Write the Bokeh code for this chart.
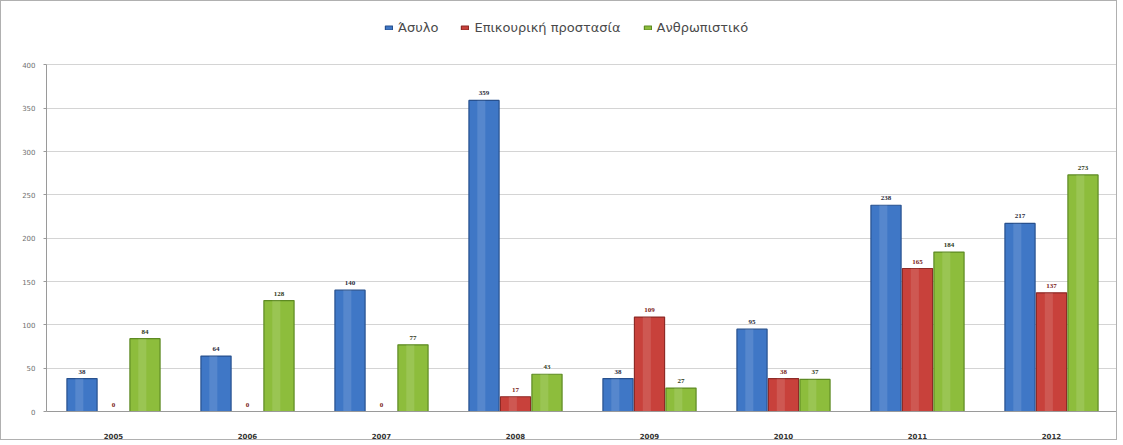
from bokeh.plotting import figure
from bokeh.models import ColumnDataSource, LabelSet, Legend, LegendItem, FactorRange
from bokeh.transform import dodge
from bokeh.embed import file_html
from bokeh.resources import INLINE

years = ["2005", "2006", "2007", "2008", "2009", "2010", "2011", "2012"]
asylum = [38, 64, 140, 359, 38, 95, 238, 217]
subsidiary = [0, 0, 0, 17, 109, 38, 165, 137]
humanitarian = [84, 128, 77, 43, 27, 37, 184, 273]
series_names = ["Άσυλο", "Επικουρική προστασία", "Ανθρωπιστικό"]
y_ticks = [0, 50, 100, 150, 200, 250, 300, 350, 400]

colors = ["#3f77c6", "#c8413b", "#8dbd3c"]
edges = ["#27508e", "#8e2a26", "#5d8a22"]
label_colors = ["#2b2b3a", "#7a1c18", "#2f3a1a"]

src = ColumnDataSource(dict(
    years=years,
    a=asylum, s=subsidiary, h=humanitarian,
    a_t=[str(v) for v in asylum],
    s_t=[str(v) for v in subsidiary],
    h_t=[str(v) for v in humanitarian],
))

W, H = 1117, 440
top_b, bot_b = 15, 25
frame_h = H - top_b - bot_b
y_top = 400 * frame_h / 351.0

p = figure(width=W, height=H, x_range=FactorRange(*years), y_range=(0, y_top),
           output_backend="svg", toolbar_location=None,
           min_border_left=45, min_border_right=0, min_border_top=top_b, min_border_bottom=bot_b)
p.styles = {"border": "1px solid #b0b0b0"}
p.outline_line_color = None
p.background_fill_color = "white"
p.border_fill_color = "white"

p.xgrid.grid_line_color = None
p.ygrid.grid_line_color = "#d4d4d4"
p.ygrid.grid_line_width = 1

p.yaxis.ticker = y_ticks
p.yaxis.bounds = (y_ticks[0], y_ticks[-1])
p.yaxis.axis_line_color = "#9a9a9a"
p.yaxis.major_tick_line_color = "#9a9a9a"
p.yaxis.major_tick_out = 3
p.yaxis.major_tick_in = 0
p.yaxis.minor_tick_line_color = None
p.yaxis.major_label_text_font = "DejaVu Sans"
p.yaxis.major_label_text_font_size = "7px"
p.yaxis.major_label_text_color = "#707070"
p.yaxis.major_label_standoff = 8

p.xaxis.axis_line_color = "#9a9a9a"
p.xaxis.major_tick_line_color = None
p.xaxis.major_label_text_font = "DejaVu Sans"
p.xaxis.major_label_text_font_size = "7px"
p.xaxis.major_label_text_font_style = "bold"
p.xaxis.major_label_text_color = "#333333"
p.xaxis.major_label_standoff = 15
p.x_range.range_padding = 0.0

offsets = [-0.235, 0.0, 0.235]
fields = ["a", "s", "h"]
renderers = []
for i, f in enumerate(fields):
    r = p.vbar(x=dodge("years", offsets[i], range=p.x_range), top=f, width=0.225, source=src,
               fill_color=colors[i], line_color=edges[i], line_width=1.2)
    p.vbar(x=dodge("years", offsets[i] - 0.02, range=p.x_range), top=f, width=0.06, source=src,
           fill_color="white", fill_alpha=0.12, line_color=None)
    renderers.append(r)
    lbl = LabelSet(x=dodge("years", offsets[i], range=p.x_range), y=f, text=f + "_t", source=src,
                   text_align="center", text_baseline="bottom", y_offset=5,
                   text_font="DejaVu Sans", text_font_size="7px", text_font_style="bold",
                   text_color=label_colors[i],
                   background_fill_color="white", background_fill_alpha=0.9)
    p.add_layout(lbl)

legend = Legend(items=[LegendItem(label=series_names[i], renderers=[renderers[i]]) for i in range(3)],
                orientation="horizontal", location=(338, frame_h - 24),
                label_text_font="DejaVu Sans", label_text_font_size="13px",
                label_text_color="#4a4a4a", glyph_width=9, glyph_height=5,
                spacing=22, padding=0, margin=0, label_standoff=5,
                background_fill_alpha=0, border_line_color=None)
p.add_layout(legend)

open("out.html", "w").write(file_html(p, INLINE))
